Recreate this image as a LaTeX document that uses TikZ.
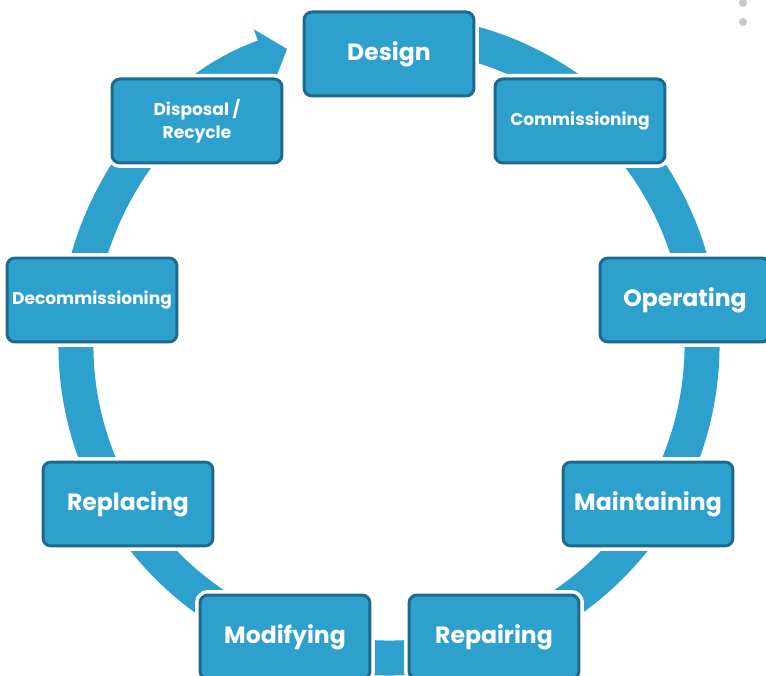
\documentclass[tikz,border=0pt]{standalone}
\usepackage{fontspec}
\setmainfont{Poppins}
\usepackage{tikz}
\usetikzlibrary{arrows.meta}
\definecolor{lcfill}{RGB}{46,160,206}
\definecolor{lcedge}{RGB}{30,106,140}
\definecolor{lcdot}{RGB}{200,200,200}
\tikzset{
  lc_box/.style = {rectangle, rounded corners=0.16cm, fill=lcfill, draw=lcedge,
    line width=0.06cm, text=white, align=center, inner sep=0pt,
    minimum width=3.4cm, minimum height=1.68cm,
    preaction={draw=white, line width=0.2cm}},
  lc_big/.style = {lc_box, font=\bfseries\fontsize{13.4}{16}\selectfont},
  lc_small/.style = {lc_box, font=\bfseries\fontsize{9.7}{13}\selectfont},% long names
  lc_ring/.style = {draw=lcfill, line width=0.7cm,
    -{Triangle[width=1.15cm, length=0.5cm]}}
}
\begin{document}
\begin{tikzpicture}[x=0.02cm, y=0.02cm]
\useasboundingbox (0,0) rectangle (766,675);
\coordinate (ctr) at (389,330);
% the cycle ring, clockwise back into Design
\draw [lc_ring] (ctr) ++(80:313) arc[start angle=80, end angle=-251, radius=313];
\node [lc_big]   (design)    at (389,621) {Design};
\node [lc_small] (commiss)   at (580,554) {Commissioning};
\node [lc_big]   (operating) at (685,375) {Operating};
\node [lc_big]   (maintain)  at (648,171) {Maintaining};
\node [lc_big]   (repair)    at (494,38)  {Repairing};
\node [lc_big]   (modify)    at (285,38)  {Modifying};
\node [lc_big]   (replace)   at (128,171) {Replacing};
\node [lc_small] (decommiss) at (92,375)  {Decommissioning};
\node [lc_small] (disposal)  at (197,554) {Disposal /\\Recycle};
% two grey dots, top right
\fill [lcdot] (743,672) circle (4);
\fill [lcdot] (743,653) circle (4);
\end{tikzpicture}
\end{document}
